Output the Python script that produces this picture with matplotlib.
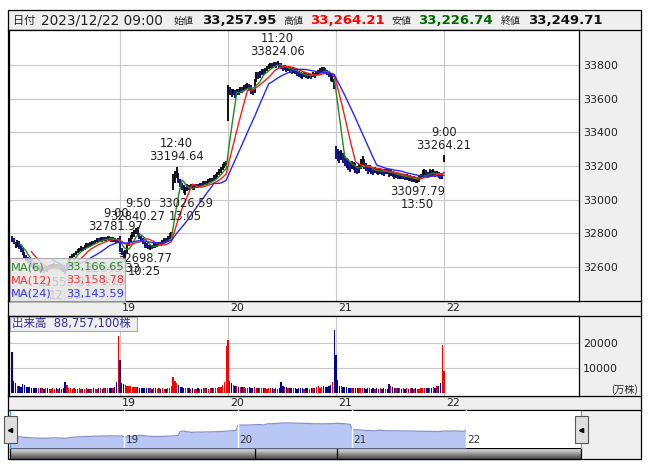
import matplotlib
matplotlib.use("Agg")
import matplotlib.pyplot as plt
import numpy as np
import pandas as pd
from matplotlib.colors import LinearSegmentedColormap
from matplotlib.patches import Rectangle

plt.rcParams['font.family'] = ['DejaVu Sans', 'Noto Sans CJK JP']

# ---- 5-minute bars, 2023/12/18 .. 2023/12/22 09:00 (61 bars per session day)
day_labels = ['19', '20', '21', '22']

c18 = [32765, 32745, 32725, 32750, 32720, 32700, 32680, 32660, 32650, 32640,
       32630, 32615, 32605, 32600, 32590, 32595, 32585, 32590, 32580, 32590,
       32585, 32595, 32600, 32605, 32610, 32600, 32605, 32595, 32590, 32585,
       32575, 32610, 32640, 32655, 32665, 32675, 32685, 32695, 32705, 32715,
       32705, 32720, 32730, 32725, 32735, 32745, 32740, 32750, 32760, 32755,
       32765, 32760, 32770, 32765, 32775, 32770, 32760, 32765, 32755, 32750,
       32759]
h18 = [32785, 32770, 32750, 32760, 32755, 32730, 32710, 32690, 32670, 32660,
       32650, 32640, 32625, 32615, 32610, 32610, 32605, 32605, 32600, 32605,
       32605, 32610, 32615, 32620, 32625, 32620, 32620, 32615, 32610, 32605,
       32595, 32625, 32650, 32665, 32675, 32685, 32695, 32705, 32715, 32725,
       32720, 32730, 32740, 32740, 32745, 32755, 32755, 32760, 32770, 32770,
       32775, 32775, 32780, 32780, 32785, 32785, 32775, 32775, 32770, 32765,
       32770]
l18 = [32750, 32735, 32715, 32720, 32705, 32690, 32670, 32650, 32635, 32625,
       32615, 32600, 32590, 32585, 32575, 32580, 32570, 32575, 32565, 32575,
       32570, 32580, 32585, 32590, 32595, 32585, 32590, 32580, 32575, 32570,
       32555, 32575, 32610, 32635, 32650, 32660, 32670, 32680, 32690, 32695,
       32695, 32700, 32715, 32715, 32720, 32730, 32730, 32735, 32745, 32745,
       32750, 32750, 32755, 32755, 32760, 32760, 32750, 32750, 32745, 32740,
       32745]

c19 = [32700, 32690, 32665, 32690, 32730, 32760, 32770, 32790, 32800, 32815,
       32790, 32780, 32760, 32745, 32730, 32725, 32715, 32720, 32715, 32730,
       32725, 32735, 32740, 32735, 32750, 32760, 32755, 32770, 32790, 32800,
       33110, 33150, 33150, 33120, 33090, 33080, 33050, 33060, 33075, 33070,
       33080, 33065, 33075, 33085, 33080, 33090, 33085, 33095, 33100, 33095,
       33110, 33120, 33115, 33130, 33140, 33150, 33165, 33180, 33195, 33210,
       33219]
h19 = [32782, 32715, 32695, 32700, 32740, 32770, 32790, 32805, 32820, 32830,
       32840, 32800, 32785, 32770, 32750, 32740, 32730, 32730, 32730, 32740,
       32740, 32745, 32750, 32750, 32760, 32770, 32770, 32785, 32800, 32810,
       33150, 33170, 33195, 33160, 33125, 33100, 33085, 33075, 33090, 33085,
       33095, 33085, 33090, 33095, 33095, 33100, 33100, 33110, 33110, 33110,
       33125, 33130, 33130, 33145, 33150, 33165, 33180, 33195, 33210, 33225,
       33230]
l19 = [32690, 32670, 32650, 32643, 32685, 32725, 32750, 32765, 32780, 32795,
       32785, 32765, 32750, 32735, 32715, 32710, 32705, 32699, 32705, 32710,
       32715, 32720, 32725, 32725, 32735, 32745, 32745, 32755, 32765, 32780,
       33060, 33100, 33130, 33100, 33075, 33060, 33040, 33027, 33050, 33055,
       33065, 33055, 33060, 33070, 33070, 33075, 33075, 33080, 33085, 33085,
       33095, 33105, 33105, 33110, 33125, 33135, 33145, 33160, 33175, 33190,
       33200]

c20 = [33650, 33640, 33630, 33640, 33625, 33645, 33640, 33655, 33650, 33665,
       33670, 33680, 33670, 33650, 33640, 33700, 33740, 33730, 33745, 33760,
       33755, 33770, 33780, 33790, 33800, 33795, 33805, 33800, 33810, 33795,
       33790, 33780, 33785, 33775, 33780, 33770, 33765, 33770, 33760, 33750,
       33745, 33740, 33735, 33745, 33740, 33730, 33740, 33735, 33745, 33740,
       33750, 33755, 33765, 33775, 33770, 33760, 33755, 33745, 33715, 33720,
       33675]
h20 = [33680, 33670, 33660, 33660, 33650, 33660, 33660, 33670, 33670, 33680,
       33690, 33695, 33690, 33680, 33660, 33720, 33760, 33760, 33765, 33775,
       33775, 33785, 33795, 33805, 33815, 33815, 33820, 33818, 33824, 33815,
       33810, 33800, 33800, 33795, 33795, 33790, 33785, 33785, 33780, 33770,
       33765, 33760, 33755, 33760, 33755, 33750, 33755, 33750, 33760, 33755,
       33765, 33770, 33785, 33790, 33790, 33780, 33770, 33765, 33745, 33745,
       33720]
l20 = [33470, 33620, 33610, 33620, 33605, 33625, 33625, 33635, 33635, 33645,
       33655, 33660, 33655, 33630, 33620, 33635, 33700, 33715, 33725, 33740,
       33740, 33750, 33765, 33775, 33785, 33780, 33790, 33785, 33795, 33780,
       33775, 33765, 33770, 33760, 33765, 33755, 33750, 33755, 33745, 33735,
       33730, 33725, 33720, 33730, 33725, 33715, 33725, 33720, 33730, 33725,
       33735, 33740, 33750, 33760, 33755, 33745, 33740, 33730, 33705, 33700,
       33660]

c21 = [33280, 33260, 33250, 33270, 33240, 33230, 33215, 33200, 33190, 33210,
       33195, 33185, 33170, 33185, 33215, 33230, 33200, 33190, 33175, 33185,
       33170, 33165, 33180, 33170, 33165, 33175, 33165, 33160, 33170, 33165,
       33155, 33160, 33150, 33145, 33150, 33140, 33145, 33135, 33140, 33130,
       33135, 33125, 33130, 33120, 33125, 33115, 33115, 33125, 33140, 33155,
       33165, 33150, 33145, 33160, 33155, 33165, 33150, 33155, 33145, 33135,
       33140]
h21 = [33320, 33300, 33290, 33295, 33280, 33260, 33250, 33240, 33225, 33230,
       33225, 33215, 33200, 33210, 33240, 33260, 33240, 33215, 33205, 33205,
       33195, 33190, 33195, 33190, 33185, 33190, 33185, 33180, 33185, 33185,
       33180, 33175, 33170, 33165, 33165, 33160, 33160, 33155, 33155, 33150,
       33150, 33145, 33145, 33140, 33140, 33135, 33130, 33140, 33155, 33175,
       33185, 33175, 33165, 33180, 33175, 33180, 33170, 33170, 33165, 33160,
       33160]
l21 = [33240, 33230, 33220, 33235, 33215, 33200, 33190, 33175, 33165, 33180,
       33175, 33160, 33150, 33160, 33180, 33205, 33185, 33170, 33155, 33165,
       33150, 33145, 33160, 33150, 33145, 33155, 33145, 33140, 33150, 33150,
       33135, 33140, 33135, 33125, 33130, 33125, 33125, 33120, 33120, 33115,
       33115, 33110, 33110, 33105, 33105, 33100, 33098, 33105, 33120, 33135,
       33145, 33135, 33130, 33140, 33140, 33145, 33135, 33140, 33130, 33125,
       33125]

c22 = [33249.71]
h22 = [33264.21]
l22 = [33226.74]

# volume, 万株
v18 = [16300, 5000, 4000, 3100, 3000, 2400, 3700, 3300, 2600, 2400,
       2600, 2300, 2200, 2200, 2100, 2200, 2000, 2100, 1900, 2000,
       2000, 1800, 1900, 2000, 1900, 2200, 1800, 2300, 1900, 2100,
       4500, 3300, 2200, 2000, 1900, 2100, 1900, 1800, 2000, 1900,
       1800, 1900, 2000, 1700, 1900, 1800, 2000, 1900, 1800, 2000,
       2100, 1900, 2000, 2200, 2000, 2100, 2300, 2100, 2700, 4700,
       22700]
v19 = [13000, 4300, 3700, 3500, 3000, 2800, 2800, 2600, 2500, 2400,
       2600, 2300, 2200, 2300, 2100, 2200, 2000, 2100, 1900, 2000,
       2100, 1800, 2000, 1900, 2100, 1900, 1800, 2000, 2100, 2900,
       6400, 5000, 4000, 3300, 2700, 2500, 2300, 2200, 2000, 2100,
       1900, 2000, 1800, 1900, 2000, 1800, 1900, 2100, 2000, 2200,
       1900, 2000, 2300, 2100, 2000, 2200, 2400, 2700, 3300, 4700,
       18700]
v20 = [20900, 5000, 4000, 3300, 3000, 2900, 2700, 2500, 2400, 2600,
       2300, 2200, 2400, 2100, 2300, 2500, 2200, 2000, 2300, 2100,
       2000, 2200, 1900, 2100, 2000, 2200, 1900, 2000, 1800, 2000,
       4700, 2900, 2700, 2400, 2200, 2300, 2100, 2000, 2200, 1900,
       2100, 2000, 2200, 1800, 2000, 2100, 1900, 2000, 2200, 2000,
       2400, 2800, 2200, 2600, 2900, 2500, 2700, 2900, 3300, 4700,
       24900]
v21 = [15300, 5300, 2900, 2900, 2600, 2600, 2400, 2300, 2200, 2300,
       2200, 2300, 2100, 2000, 2200, 2100, 2000, 1900, 2100, 2000,
       1900, 2000, 1800, 2000, 1900, 2100, 1900, 2000, 1800, 1900,
       3700, 2900, 2500, 2300, 2200, 2000, 2100, 1900, 2000, 1800,
       2100, 1900, 2000, 2100, 1900, 2000, 1800, 1900, 2100, 2000,
       2200, 2100, 2000, 2100, 2200, 2400, 2300, 2900, 2900, 4000,
       18900]
v22 = [9000]

price_ticks = [32600, 32800, 33000, 33200, 33400, 33600, 33800]
vol_ticks = [10000, 20000]

# high / low marks: (bar index, price, time)
hi_marks = [(61, 32781.97, '9:00'), (71, 32840.27, '9:50'), (93, 33194.64, '12:40'),
            (150, 33824.06, '11:20'), (244, 33264.21, '9:00')]
lo_marks = [(30, 32555.31, '12:30'), (64, 32643.33, '9:15'), (78, 32698.77, '10:25'),
            (98, 33026.59, '13:05'), (229, 33097.79, '13:50')]

header_date = '2023/12/22 09:00'
header_names = ['始値', '高値', '安値', '終値']
header_values = ['33,257.95', '33,264.21', '33,226.74', '33,249.71']
ma_windows = [6, 12, 24]
ma_values = ['33,166.65', '33,158.78', '33,143.59']
volume_total = '88,757,100'

close = np.array(c18 + c19 + c20 + c21 + c22, dtype=float)
high = np.array(h18 + h19 + h20 + h21 + h22, dtype=float)
low = np.array(l18 + l19 + l20 + l21 + l22, dtype=float)
vol = np.array(v18 + v19 + v20 + v21 + v22, dtype=float)
n = len(close)
x = np.arange(n)
per_day = len(c18)
day_starts = [per_day * (k + 1) for k in range(len(day_labels))]

up = np.r_[False, close[1:] >= close[:-1]]
candle_col = np.where(up, '#000000', '#000080')
vol_col = np.where(up, '#ff0000', '#0000a0')

# ---- layout in pixels
W, H = 653, 470
fig = plt.figure(figsize=(W / 100, H / 100), dpi=100)


def px_axes(x0, y0, x1, y1):
    return fig.add_axes([x0 / W, 1 - y1 / H, (x1 - x0) / W, (y1 - y0) / H])


def px_frame(a):
    a.set_xlim(0, W)
    a.set_ylim(H, 0)
    a.axis('off')


GRID = '#c8c8c8'
TXT = '#222222'

bg = px_axes(0, 0, W, H)
px_frame(bg)
bg.add_patch(Rectangle((8, 10), 633, 449, fc='#efefef', ec='k', lw=0.9))
for yy in (30, 301, 316, 396, 410):
    bg.plot([8, 641], [yy, yy], color='k', lw=0.9)

# header
cjk = 'Noto Sans CJK JP'
bg.text(13, 20.5, '日付', fontsize=8, family=cjk, va='center', color=TXT)
bg.text(41, 20.5, header_date, fontsize=9.8, va='center', color=TXT)
name_x = [174, 283, 391, 501]
val_x = [202, 310, 418, 528]
val_col = ['#111111', '#ff0000', '#006600', '#111111']
for nm, vx, nx, vc, val in zip(header_names, val_x, name_x, val_col, header_values):
    bg.text(nx, 21, nm, fontsize=7.2, family=cjk, va='center', color=TXT)
    bg.text(vx, 20.5, val, fontsize=9.5, fontweight='bold', va='center', color=vc)

# scrollbar under the navigator
grad = LinearSegmentedColormap.from_list('sb', ['#eeeeee', '#9a9a9a', '#4a4a4a'])
bg.imshow(np.linspace(0, 1, 30)[:, None], cmap=grad, aspect='auto',
          extent=(10, 581, 459, 448), origin='upper', zorder=2)
bg.add_patch(Rectangle((10, 448), 571, 11, fc='none', ec='k', lw=0.9, zorder=3))
for xx in (255, 337):
    bg.plot([xx, xx], [448, 459], color='k', lw=0.9, zorder=3)
bg.set_xlim(0, W)
bg.set_ylim(H, 0)
bg.text(638, 390, '(万株)', fontsize=7.2, family=cjk, ha='right', va='center', color=TXT)

# ---- price panel
ax = px_axes(9, 30, 579, 301)
ax.vlines(x, low, high, colors=candle_col, lw=1.3, zorder=3)
ma_col = ['#1f8a1f', '#ff1a1a', '#2626ff']
s = pd.Series(close)
for w, mc in zip(ma_windows, ma_col):
    ax.plot(x, s.rolling(w).mean(), color=mc, lw=1.0, zorder=4)
ax.set_xlim(-1.7, 320.3)
ax.set_ylim(32397, 34009)
ax.set_xticks(day_starts)
ax.set_yticks(price_ticks)
ax.yaxis.tick_right()
ax.tick_params(axis='x', length=0, labelbottom=False)
ax.tick_params(axis='y', length=0, pad=3, labelsize=7.9, labelcolor=TXT)
ax.grid(color=GRID, lw=0.8, zorder=0)
ax.set_axisbelow(True)
for sp in ax.spines.values():
    sp.set_linewidth(0.9)
for d, lab in zip(day_starts, day_labels):
    ax.annotate(lab, (d, 0), xycoords=('data', 'axes fraction'), xytext=(1.5, -1.5),
                textcoords='offset points', ha='left', va='top', fontsize=7.9,
                color=TXT, annotation_clip=False)

# labels that would collide are nudged left, as the original chart does
hi_dx = [-3, 0, 0, 0, 0]
lo_dx = [0, -9, -4, 0, 0]
for (i, p, t), dx in zip(hi_marks, hi_dx):
    ax.annotate(f'{t}\n{p:.2f}', (i, p), xytext=(dx, 2.5), textcoords='offset points',
                ha='center', va='bottom', fontsize=8.3, linespacing=1.0, color=TXT, zorder=5)
for (i, p, t), dx in zip(lo_marks, lo_dx):
    ax.annotate(f'{p:.2f}\n{t}', (i, p), xytext=(dx, -1.5), textcoords='offset points',
                ha='center', va='top', fontsize=8.3, linespacing=1.0, color=TXT, zorder=5)

# ---- volume panel
av = px_axes(9, 316, 579, 396)
av.bar(x, vol, width=0.75, color=vol_col, zorder=3)
av.set_xlim(-1.7, 320.3)
av.set_ylim(-1000, 30500)
av.set_xticks(day_starts)
av.set_yticks(vol_ticks)
av.yaxis.tick_right()
av.tick_params(axis='x', length=0, labelbottom=False)
av.tick_params(axis='y', length=0, pad=3, labelsize=7.9, labelcolor=TXT)
av.grid(color=GRID, lw=0.8, zorder=0)
av.set_axisbelow(True)
for sp in av.spines.values():
    sp.set_linewidth(0.9)
for d, lab in zip(day_starts, day_labels):
    av.annotate(lab, (d, 0), xycoords=('data', 'axes fraction'), xytext=(1.5, -1.5),
                textcoords='offset points', ha='left', va='top', fontsize=7.9,
                color=TXT, annotation_clip=False)

# ---- navigator
an = px_axes(10, 410, 581, 448)
an.fill_between(x, close, 31800, color='#b9c7f5', lw=0, zorder=2)
an.plot(x, close, color='#8a90cc', lw=0.9, zorder=3)
an.set_xlim(0, 305.5)
an.set_ylim(31800, 34840)
an.set_xticks([])
an.set_yticks([])
for d, lab in zip(day_starts, day_labels):
    an.axvline(d, color='white', lw=1.0, zorder=4)
    an.annotate(lab, (d, 0), xycoords=('data', 'axes fraction'), xytext=(1, 2),
                textcoords='offset points', ha='left', va='bottom', fontsize=7.5,
                color='#333333', zorder=5)
an.spines['top'].set_color('k')
an.spines['bottom'].set_visible(False)
for side in ('left', 'right'):
    an.spines[side].set_color('#33aadd')

# ---- overlay: legend boxes and navigator handles
ov = px_axes(0, 0, W, H)
px_frame(ov)
ov.add_patch(Rectangle((10, 258), 115, 43, fc='#e4e4e4', ec='#a0a0a0', lw=0.8, alpha=0.85))
legend_col = ['#2d862d', '#ff3333', '#3333ff']
for k, (w, val, lc) in enumerate(zip(ma_windows, ma_values, legend_col)):
    yy = 267 + 13.5 * k
    ov.text(11, yy, f'MA({w})', fontsize=8.2, color=lc, va='center', ha='left')
    ov.text(124, yy, val, fontsize=8.2, color=lc, va='center', ha='right')

ov.add_patch(Rectangle((10, 317), 127, 14, fc='#eeeeee', ec='#a0a0a0', lw=0.8, alpha=0.9))
ov.text(12, 324, f'出来高  {volume_total}株', fontsize=8.3, color='#3030a0',
        va='center', ha='left')

for hx in (4, 575):
    ov.add_patch(Rectangle((hx, 416), 13, 27, fc='#dedede', ec='#555555', lw=0.8))
    ov.plot(hx + 6, 429.5, marker='<', ms=3, color='k')

fig.savefig('out.png', dpi=100)
